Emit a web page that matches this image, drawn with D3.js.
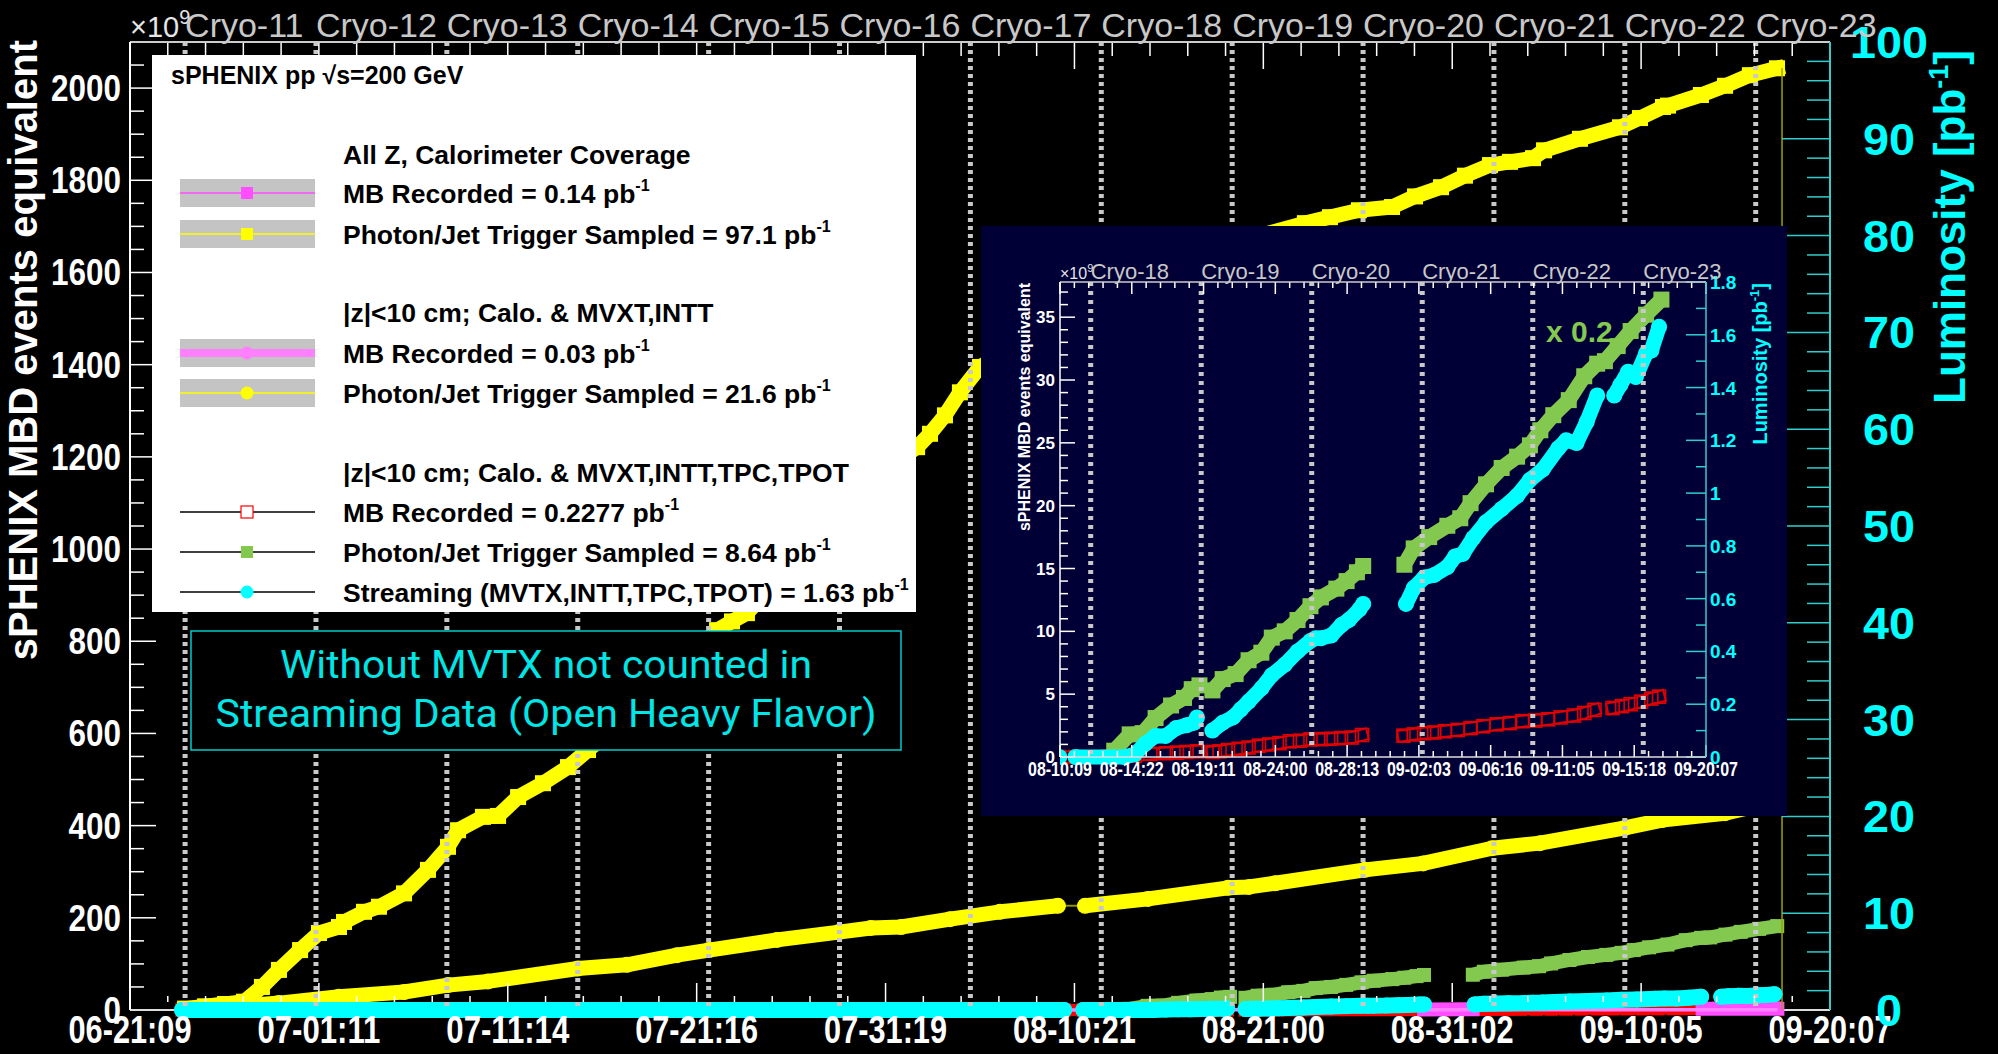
<!DOCTYPE html>
<html><head><meta charset="utf-8">
<script src="https://cdn.jsdelivr.net/npm/d3@7"></script>
<style>body{margin:0;background:#000;overflow:hidden}svg{display:block}</style>
</head><body><svg id="c" width="1998" height="1054"></svg>
<script>
// ---------------- DATA (x = days since 06-21 00:00) ----------------
const xTickLabels = ["06-21:09","07-01:11","07-11:14","07-21:16","07-31:19","08-10:21","08-21:00","08-31:02","09-10:05","09-20:07"];
const insetTickLabels = ["08-10:09","08-14:22","08-19:11","08-24:00","08-28:13","09-02:03","09-06:16","09-11:05","09-15:18","09-20:07"];
const mainDomain = [0.394, 91.313];
const insetDomain = [50.396, 91.313];
const cryoLabels = ["Cryo-11","Cryo-12","Cryo-13","Cryo-14","Cryo-15","Cryo-16","Cryo-17","Cryo-18","Cryo-19","Cryo-20","Cryo-21","Cryo-22","Cryo-23"];
const cryoDays = [3.34,10.34,17.34,24.34,31.34,38.34,45.34,52.34,59.34,66.34,73.34,80.34,87.34];
const yLeftTicks = [0,200,400,600,800,1000,1200,1400,1600,1800,2000];
const yRightTicks = [0,10,20,30,40,50,60,70,80,90,100];
const insetLeftTicks = [0,5,10,15,20,25,30,35];
const insetRightTicks = [0,0.2,0.4,0.6,0.8,1,1.2,1.4,1.6,1.8];

// Photon/Jet Trigger Sampled, all Z (x10^9 MBD events equivalent)
const yellowSq = [[3.34,3],[4.41,8],[5.48,13],[6.49,18],[7.45,50],[8.36,87],[9.49,130],[10.50,167],[11.57,180],[11.84,191],[12.91,213],[13.71,224],[15.05,253],[16.33,304],[17.40,354],[17.94,390],[19.27,419],[20.08,421],[21.15,462],[22.48,492],[23.82,527],[24.89,564],[26.6,620],[28.2,680],[29.81,730],[30.88,790],[31.79,824],[32.59,843],[33.39,861],[35.16,940],[37.30,1040],[39.44,1120],[41.04,1180],[42.49,1221],[43.18,1250],[43.98,1290],[44.78,1340],[45.85,1395],[47.99,1450],[51.2,1510],[54.41,1570],[57.62,1630],[60.83,1680],[63.23,1707],[64.57,1720],[66.12,1735],[67.89,1742],[69.12,1765],[70.51,1785],[71.79,1810],[73.13,1833],[74.20,1840],[75.43,1848],[76.02,1865],[77.94,1890],[80.08,1915],[81.15,1935],[82.38,1959],[82.65,1962],[84.41,1985],[85.70,2005],[87.03,2028],[88.48,2043]];
// Photon/Jet Trigger Sampled, |z|<10 cm
const yellowCirc = [[7.03,11],[8.36,15],[11.57,29],[15.05,39],[17.40,54],[19.54,62],[24.35,90],[26.97,98],[29.65,119],[31.36,130],[35.00,152],[38.31,169],[40.02,178],[41.63,180],[44.25,197],[46.92,213],[50.02,226],null,[51.47,226],[54.84,241],[59.12,265],[60.24,267],[61.63,275],[66.44,304],[69.55,318],[73.24,351],[75.80,362],[80.35,395],[82.33,412],[85.70,427],[88.48,453]];
// Photon/Jet Trigger Sampled, |z|<10 cm full tracking
const green = [[53.83,2.5],[54.81,9],[55.63,9.5],[56.45,15.5],[57.43,20.5],[58.25,23.5],[58.74,27],[59.23,28.5],null,[60.05,26.5],[60.70,31],[61.52,33],[62.34,38.5],[63.15,41.5],[63.81,47.5],[64.63,50],[65.44,54.5],[66.26,60],[66.92,63.5],[67.90,67],[68.55,70],[69.20,73.5],[69.60,76],null,[72.21,76.5],[72.80,83],[73.78,87.5],[74.93,92],[75.75,95],[76.40,101],[77.38,108.5],[78.37,115],[79.35,119.5],[80.16,124],[80.82,130],[81.64,136],[82.62,142],[83.60,151.5],[84.42,156.5],[84.91,157.5],[85.72,163.5],[86.54,169.5],[87.52,176],[88.49,182]];
// Streaming luminosity (pb^-1)
const cyan = [[3.18,0],[11.57,0],[19.43,0],[26.6,0],[38.69,0],[40.56,0],[50.35,0],null,[51.38,0],[54.49,0],[55.14,0.01],[55.79,0.05],[56.45,0.08],[57.10,0.08],[57.76,0.11],[58.41,0.12],[58.90,0.13],[59.07,0.15],null,[60.05,0.10],[60.70,0.13],[61.35,0.15],[61.84,0.18],[62.34,0.21],[63.15,0.26],[63.81,0.31],[64.63,0.35],[65.44,0.40],[66.26,0.44],[66.59,0.45],[66.92,0.45],[67.57,0.46],[68.22,0.50],[68.71,0.52],[69.37,0.56],[69.60,0.58],null,[72.31,0.58],[72.80,0.64],[73.46,0.68],[74.11,0.69],[74.93,0.72],[75.42,0.76],[75.91,0.77],[76.57,0.83],[77.38,0.89],[78.37,0.94],[79.35,0.99],[80.16,1.05],[80.98,1.09],[81.96,1.17],[82.45,1.20],[83.11,1.19],[83.76,1.27],[84.42,1.37],null,[85.50,1.37],[85.89,1.41],[86.38,1.46],[86.87,1.44],[87.52,1.53],[87.85,1.54],[88.34,1.63]];
// MB Recorded |z|<10 cm full tracking (x10^9)
const red = [[3.18,0],[50.35,0],[51.38,0],[53.5,0.05],[55.14,0.1],[56.12,0.25],[57.10,0.3],[57.8,0.35],[58.41,0.4],[59.07,0.45],null,[60.05,0.4],[60.5,0.45],[61.03,0.55],[61.7,0.65],[62.34,0.75],[63.0,0.9],[63.64,1.0],[64.3,1.1],[64.95,1.25],[65.6,1.3],[66.26,1.4],[66.9,1.42],[67.57,1.45],[68.2,1.5],[68.88,1.55],[69.53,1.75],null,[72.15,1.7],[72.8,1.8],[73.46,1.9],[74.1,1.95],[74.77,2.05],[75.6,2.15],[76.40,2.3],[77.2,2.45],[78.04,2.6],[78.9,2.7],[79.67,2.85],[80.5,2.9],[81.31,3.0],[82.1,3.15],[82.95,3.3],[83.6,3.5],[84.25,3.75],null,[85.40,3.9],[86.0,4.05],[86.54,4.2],[87.2,4.4],[87.85,4.65],[88.34,4.8]];
// MB Recorded, all Z (x10^9)
const magentaSq = [[69.6,1.3],[72.2,1.5],null,[84.5,2.5],[88.5,2.9]];
// MB Recorded, |z|<10 cm (x10^9)
const magentaLine = [[38.7,0],[50,0.15],[60,0.3],[70,0.45],[80,0.55],[88.5,0.63]];

const legendHeaders = ["All Z, Calorimeter Coverage","|z|<10 cm; Calo. & MVXT,INTT","|z|<10 cm; Calo. & MVXT,INTT,TPC,TPOT"];
const legendTexts = ["MB Recorded = 0.14 pb","Photon/Jet Trigger Sampled = 97.1 pb","MB Recorded = 0.03 pb","Photon/Jet Trigger Sampled = 21.6 pb","MB Recorded = 0.2277 pb","Photon/Jet Trigger Sampled = 8.64 pb","Streaming (MVTX,INTT,TPC,TPOT) = 1.63 pb"];
const boxLines = ["Without MVTX not counted in","Streaming Data (Open Heavy Flavor)"];

// ---------------- SETUP ----------------
const W=1998,H=1054;
const FONT="'Liberation Sans', Arial, Helvetica, sans-serif";
const svg=d3.select('#c').style('font-family',FONT);
svg.append('rect').attr('width',W).attr('height',H).attr('fill','#000');
const defs=svg.append('defs');

const M={x0:130,x1:1830,y0:42,y1:1010};
const x=d3.scaleLinear().domain(mainDomain).range([M.x0,M.x1]);
const y=d3.scaleLinear().domain([0,2100]).range([M.y1,M.y0]);
const yR=d3.scaleLinear().domain([0,100]).range([M.y1,M.y0]);

const I={x0:1060,x1:1706,y0:282,y1:757};
const xi=d3.scaleLinear().domain(insetDomain).range([I.x0,I.x1]);
const yi=d3.scaleLinear().domain([0,37.8]).range([I.y1,I.y0]);
const yiR=d3.scaleLinear().domain([0,1.8]).range([I.y1,I.y0]);

defs.append('clipPath').attr('id','mclip').append('rect').attr('x',M.x0).attr('y',M.y0).attr('width',M.x1-M.x0).attr('height',M.y1-M.y0+12);
defs.append('clipPath').attr('id','iclip').append('rect').attr('x',I.x0).attr('y',I.y0).attr('width',I.x1-I.x0).attr('height',I.y1-I.y0+10);

const YEL='#ffff00',GRN='#84c94f',CYN='#00ffff',RED='#ff0000',MAG='#ff4dff',PINK='#ff80ff',NAVY='#000036';

function fitText(g,txt,cx,by,size,target,opts){
  opts=opts||{};
  const t=g.append('text').attr('font-size',size).attr('font-weight',opts.bold?'bold':'normal')
    .attr('fill',opts.fill||'#fff').attr('text-anchor',opts.anchor||'middle').text(txt);
  if(opts.family) t.attr('font-family',opts.family);
  const nat=t.node().getComputedTextLength()||target;
  t.attr('transform',`translate(${cx},${by}) scale(${target/nat},1)`);
  return t;
}

function band(g,data,xs,ys,o){
  const k=o.k||1;
  const line=d3.line().defined(d=>d!=null).x(d=>xs(d[0])).y(d=>ys(d[1]*k));
  if(o.w>0) g.append('path').attr('d',line(data)).attr('fill','none').attr('stroke',o.color)
    .attr('stroke-width',o.w).attr('stroke-linejoin','round').attr('stroke-linecap',o.cap||'round');
  if(o.inner) g.append('path').attr('d',line(data)).attr('fill','none').attr('stroke',o.inner)
    .attr('stroke-width',o.w-4).attr('stroke-linejoin','round').attr('stroke-linecap',o.cap||'round');
  const pts=data.filter(d=>d);
  if(o.marker==='square'){
    g.selectAll(null).data(pts).enter().append('rect')
      .attr('x',d=>xs(d[0])-o.s/2).attr('y',d=>ys(d[1]*k)-o.s/2).attr('width',o.s).attr('height',o.s)
      .attr('fill',o.open?'none':o.color).attr('stroke',o.open?o.color:'none').attr('stroke-width',o.open?1.6:0);
  } else if(o.marker==='circle'){
    g.selectAll(null).data(pts).enter().append('circle')
      .attr('cx',d=>xs(d[0])).attr('cy',d=>ys(d[1]*k)).attr('r',o.s/2).attr('fill',o.color);
  }
}

// frame lines under the data
const fr=svg.append('g');
fr.append('line').attr('x1',M.x0).attr('x2',M.x1).attr('y1',M.y1).attr('y2',M.y1).attr('stroke','#dddddd').attr('stroke-width',2);

// ---------------- MAIN SERIES ----------------
const gm=svg.append('g').attr('clip-path','url(#mclip)');
band(gm,red,x,y,{color:RED,w:12,cap:'square',marker:'square',s:12,open:true});
band(gm,magentaSq,x,y,{color:MAG,w:14,cap:'square'});
band(gm,magentaLine,x,y,{color:PINK,w:3.5,cap:'butt'});
band(gm,green,x,y,{color:GRN,w:14,cap:'butt',marker:'square',s:14});
gm.append('path').attr('d',d3.line().x(d=>x(d[0])).y(d=>y(d[1]))(yellowCirc.filter(d=>d)))
  .attr('fill','none').attr('stroke','#8f8f00').attr('stroke-width',2);
band(gm,yellowCirc,x,y,{color:YEL,w:15,cap:'round',marker:'circle',s:16});
band(gm,yellowSq,x,y,{color:YEL,w:15,cap:'square',marker:'square',s:16});
const lastY=yellowSq[yellowSq.length-1];
gm.append('line').attr('x1',x(lastY[0])+5).attr('x2',x(lastY[0])+5).attr('y1',y(lastY[1])).attr('y2',y(0))
  .attr('stroke','#a0a000').attr('stroke-width',1.5);
band(gm,cyan,x,yR,{color:CYN,w:16,cap:'round',marker:'circle',s:16});

svg.append('g').selectAll('line').data(cryoDays).enter().append('line')
  .attr('x1',d=>x(d)).attr('x2',d=>x(d)).attr('y1',M.y0).attr('y2',M.y1)
  .attr('stroke','#c8c8c8').attr('stroke-width',5).attr('stroke-dasharray','4 4');

// ---------------- MAIN AXES ----------------
const ax=svg.append('g');
const span=(mainDomain[1]-mainDomain[0])/9;
const xMaj=xTickLabels.map((t,i)=>mainDomain[0]+i*span);
const xMin=[];
for(let i=0;i<9;i++) for(let j=1;j<5;j++) xMin.push(mainDomain[0]+(i+j/5)*span);
function vt(g,vals,xs,y0,len,col){
  g.selectAll(null).data(vals).enter().append('line').attr('x1',d=>xs(d)).attr('x2',d=>xs(d))
   .attr('y1',y0).attr('y2',y0+len).attr('stroke',col).attr('stroke-width',1.5);
}
function ht(g,vals,ys,x0,len,col){
  g.selectAll(null).data(vals).enter().append('line').attr('y1',d=>ys(d)).attr('y2',d=>ys(d))
   .attr('x1',x0).attr('x2',x0+len).attr('stroke',col).attr('stroke-width',1.5);
}
vt(ax,xMaj,x,M.y1-8,-19,'#fff'); vt(ax,xMin,x,M.y1-8,-6,'#fff');
vt(ax,xMaj,x,M.y0,27,'#fff'); vt(ax,xMin,x,M.y0,14,'#fff');
ht(ax,yLeftTicks.filter(v=>v>0),y,M.x0,26,'#fff');
ht(ax,d3.range(50,2101,50).filter(v=>v%200),y,M.x0,14,'#fff');
ht(ax,yRightTicks.filter(v=>v>0),yR,M.x1,-48,'#33cccc');
ht(ax,d3.range(2,101,2).filter(v=>v%10),yR,M.x1,-23,'#33cccc');
ax.append('line').attr('x1',M.x0).attr('x2',M.x1).attr('y1',M.y0).attr('y2',M.y0).attr('stroke','#cccccc').attr('stroke-width',2);
ax.append('line').attr('x1',M.x0).attr('x2',M.x0).attr('y1',M.y0).attr('y2',M.y1).attr('stroke','#ffffff').attr('stroke-width',2);
ax.append('line').attr('x1',M.x1).attr('x2',M.x1).attr('y1',M.y0).attr('y2',M.y1).attr('stroke','#33cccc').attr('stroke-width',2);

xTickLabels.forEach((d,i)=>fitText(ax,d,x(xMaj[i]),1043,39,123,{bold:true}));
yLeftTicks.forEach(d=>fitText(ax,String(d),121,y(d)+13,37,String(d).length*17.5,{bold:true,anchor:'end'}));
yRightTicks.forEach(d=>fitText(ax,String(d),1889,yR(d)+16,44,String(d).length*26,{bold:true,fill:CYN}));
ax.append('text').attr('transform','translate(37,40) rotate(-90)').attr('text-anchor','end')
  .attr('font-size',40).attr('font-weight','bold').attr('fill','#fff').text('sPHENIX MBD events equivalent');
const rt=ax.append('text').attr('transform','translate(1965,50) rotate(-90)').attr('text-anchor','end')
  .attr('font-size',44).attr('font-weight','bold').attr('fill',CYN);
rt.append('tspan').text('Luminosity [pb');
rt.append('tspan').attr('font-size',27).attr('dy',-17).text('-1');
rt.append('tspan').attr('dy',17).text(']');
const e9=ax.append('text').attr('x',130).attr('y',37).attr('font-size',29).attr('fill','#e6e6e6');
e9.append('tspan').text('\u00d710'); e9.append('tspan').attr('font-size',20).attr('dy',-13).text('9');
ax.selectAll(null).data(cryoLabels).enter().append('text')
  .attr('x',(d,i)=>x(cryoDays[i])).attr('y',37).attr('font-size',34).attr('fill','#c8c8c8').text(d=>d);

// ---------------- LEGEND ----------------
const lg=svg.append('g');
lg.append('rect').attr('x',152).attr('y',55).attr('width',764).attr('height',557).attr('fill','#fff');
const tt=lg.append('text').attr('x',171).attr('y',84).attr('font-size',25).attr('font-weight','bold').attr('fill','#000');
tt.append('tspan').text('sPHENIX pp '); tt.append('tspan').text('\u221As=200 GeV');
const headY=[154,312,472];
legendHeaders.forEach((h,i)=>lg.append('text').attr('x',343).attr('y',headY[i]+10).attr('font-size',26.5)
  .attr('font-weight','bold').attr('fill','#000').text(h));
const rowY=[193,234,353,393,512,552,592];
const samples=[
 {bg:true,lc:MAG,lw:1.5,m:'square',mc:MAG},
 {bg:true,lc:YEL,lw:1.5,m:'square',mc:YEL},
 {bg:true,lc:PINK,lw:8,m:'circle',mc:PINK},
 {bg:true,lc:YEL,lw:1.5,m:'circle',mc:YEL},
 {bg:false,lc:'#000',lw:1.5,m:'open',mc:RED},
 {bg:false,lc:'#000',lw:1.5,m:'square',mc:GRN},
 {bg:false,lc:'#000',lw:1.5,m:'circle',mc:CYN}];
legendTexts.forEach((t,i)=>{
  const cy=rowY[i], s=samples[i];
  if(s.bg) lg.append('rect').attr('x',180).attr('y',cy-14).attr('width',135).attr('height',28).attr('fill','#c4c4c4');
  lg.append('line').attr('x1',180).attr('x2',315).attr('y1',cy).attr('y2',cy).attr('stroke',s.lc).attr('stroke-width',s.lw);
  if(s.m==='square') lg.append('rect').attr('x',241).attr('y',cy-6).attr('width',12).attr('height',12).attr('fill',s.mc);
  if(s.m==='open') lg.append('rect').attr('x',241).attr('y',cy-6).attr('width',12).attr('height',12).attr('fill','#fff').attr('stroke',s.mc).attr('stroke-width',1.2);
  if(s.m==='circle') lg.append('circle').attr('cx',247).attr('cy',cy).attr('r',6.5).attr('fill',s.mc);
  const tx=lg.append('text').attr('x',343).attr('y',cy+10).attr('font-size',26.5).attr('font-weight','bold').attr('fill','#000');
  tx.append('tspan').text(t); tx.append('tspan').attr('font-size',16).attr('dy',-12).text('-1');
});

// ---------------- NOTE BOX ----------------
const nb=svg.append('g');
nb.append('rect').attr('x',191).attr('y',631).attr('width',710).attr('height',119).attr('fill','#000').attr('stroke','#00cccc').attr('stroke-width',1.5);
const bl=[[678,532],[727,661]];
boxLines.forEach((t,i)=>fitText(nb,t,546,bl[i][0],38,bl[i][1],{fill:'#00e6e6',family:"Roboto, 'Open Sans', sans-serif"}));

// ---------------- INSET ----------------
const gi=svg.append('g');
gi.append('rect').attr('x',981).attr('y',226).attr('width',806).attr('height',590).attr('fill',NAVY);
const gic=gi.append('g').attr('clip-path','url(#iclip)');
band(gic,red,xi,yi,{color:'#e00000',w:13,cap:'square',inner:NAVY,marker:'square',s:13,open:true});
band(gic,green,xi,yi,{color:GRN,w:15,cap:'butt',marker:'square',s:16,k:0.2});
band(gic,cyan,xi,yiR,{color:CYN,w:15,cap:'round',marker:'circle',s:16});
const icry=cryoDays.slice(7);
gi.append('g').selectAll('line').data(icry).enter().append('line')
  .attr('x1',d=>xi(d)).attr('x2',d=>xi(d)).attr('y1',I.y0).attr('y2',I.y1)
  .attr('stroke','#c8c8c8').attr('stroke-width',5).attr('stroke-dasharray','4 5');
const ispan=(insetDomain[1]-insetDomain[0])/9;
const ixMaj=insetTickLabels.map((t,i)=>insetDomain[0]+i*ispan);
const ixMin=[]; for(let i=0;i<9;i++) for(let j=1;j<5;j++) ixMin.push(insetDomain[0]+(i+j/5)*ispan);
vt(gi,ixMaj,xi,I.y1,-12,'#fff'); vt(gi,ixMin,xi,I.y1,-6,'#fff');
vt(gi,ixMaj,xi,I.y0,12,'#fff'); vt(gi,ixMin,xi,I.y0,6,'#fff');
ht(gi,insetLeftTicks,yi,I.x0,15,'#fff');
ht(gi,d3.range(0,38,1).filter(v=>v%5),yi,I.x0,8,'#fff');
ht(gi,insetRightTicks,yiR,I.x1,-20,'#33cccc');
ht(gi,[0.1,0.3,0.5,0.7,0.9,1.1,1.3,1.5,1.7],yiR,I.x1,-10,'#33cccc');
gi.append('line').attr('x1',I.x0).attr('x2',I.x1).attr('y1',I.y0).attr('y2',I.y0).attr('stroke','#cccccc').attr('stroke-width',1.5);
gi.append('line').attr('x1',I.x0).attr('x2',I.x1).attr('y1',I.y1).attr('y2',I.y1).attr('stroke','#dddddd').attr('stroke-width',1.5);
gi.append('line').attr('x1',I.x0).attr('x2',I.x0).attr('y1',I.y0).attr('y2',I.y1).attr('stroke','#ffffff').attr('stroke-width',1.5);
gi.append('line').attr('x1',I.x1).attr('x2',I.x1).attr('y1',I.y0).attr('y2',I.y1).attr('stroke','#33cccc').attr('stroke-width',1.5);
insetTickLabels.forEach((d,i)=>fitText(gi,d,xi(ixMaj[i]),776,20,64,{bold:true}));
gi.selectAll(null).data(insetLeftTicks).enter().append('text')
  .attr('x',1055).attr('y',d=>yi(d)+6).attr('text-anchor','end')
  .attr('font-size',17).attr('font-weight','bold').attr('fill','#fff').text(d=>d);
gi.selectAll(null).data(insetRightTicks).enter().append('text')
  .attr('x',1710).attr('y',d=>yiR(d)+7).attr('font-size',19).attr('font-weight','bold').attr('fill',CYN).text(d=>d);
gi.append('text').attr('transform','translate(1030,283) rotate(-90)').attr('text-anchor','end')
  .attr('font-size',16).attr('font-weight','bold').attr('fill','#fff').text('sPHENIX MBD events equivalent');
const irt=gi.append('text').attr('transform','translate(1767,283) rotate(-90)').attr('text-anchor','end')
  .attr('font-size',20).attr('font-weight','bold').attr('fill',CYN);
irt.append('tspan').text('Luminosity [pb'); irt.append('tspan').attr('font-size',13).attr('dy',-8).text('-1'); irt.append('tspan').attr('dy',8).text(']');
const ie9=gi.append('text').attr('x',1060).attr('y',279).attr('font-size',16).attr('fill','#e6e6e6');
ie9.append('tspan').text('\u00d710'); ie9.append('tspan').attr('font-size',11).attr('dy',-7).text('9');
gi.selectAll(null).data(cryoLabels.slice(7)).enter().append('text')
  .attr('x',(d,i)=>xi(icry[i])).attr('y',279).attr('font-size',22).attr('fill','#c8c8c8').text(d=>d);
gi.append('text').attr('x',1546).attr('y',342).attr('font-size',30).attr('font-weight','bold').attr('fill',GRN).text('x 0.2');
</script></body></html>
